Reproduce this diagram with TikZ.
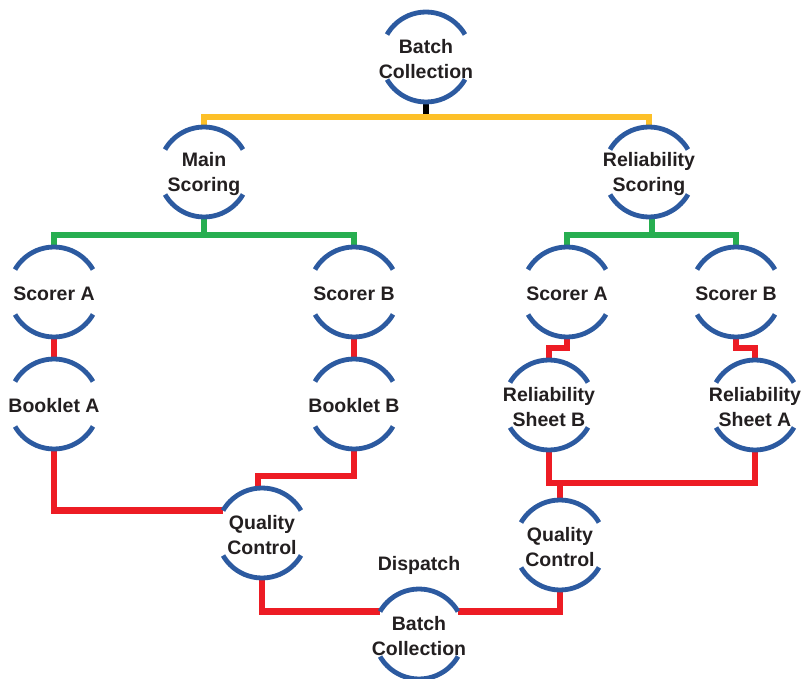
\documentclass[tikz,border=0pt]{standalone}
\usepackage{fontspec}
\setmainfont{Liberation Sans}
\definecolor{arcblue}{RGB}{44,90,160}
\definecolor{yel}{RGB}{253,192,40}
\definecolor{grn}{RGB}{39,174,80}
\definecolor{rd}{RGB}{237,28,36}
\definecolor{txtgray}{RGB}{35,31,32}
\pgfdeclarelayer{bg}
\pgfsetlayers{bg,main}
\tikzset{
  txt/.style={font=\fontsize{19.5}{25}\selectfont\bfseries, text=txtgray, align=center, inner sep=0pt, draw=none, solid},
  bub/.style={circle, minimum size=90pt, inner sep=0pt, outer sep=0pt, draw=arcblue, line width=4.8pt,
    dash pattern=on 0pt off 23.562pt on 94.248pt off 47.124pt on 94.248pt off 23.562pt,
    label={[txt,yshift=-2pt]center:#1}},
  conn/.style={line width=6.5pt},
  ylink/.style={conn, draw=yel},
  glink/.style={conn, draw=grn},
  rlink/.style={conn, draw=rd},
  stub/.style={line width=6pt, draw=black}
}
\begin{document}
\begin{tikzpicture}[x=1pt,y=-1pt]
\useasboundingbox (0,0) rectangle (801,679);
% bubbles
\node[bub={Batch\\Collection}] (bc1) at (426,57) {};
\node[bub={Main\\Scoring}] (ms) at (204,172) {};
\node[bub={Reliability\\Scoring}] (rs) at (649,172) {};
\node[bub={Scorer A}] (sa1) at (54,292) {};
\node[bub={Scorer B}] (sb1) at (354,292) {};
\node[bub={Scorer A}] (sa2) at (567,292) {};
\node[bub={Scorer B}] (sb2) at (736,292) {};
\node[bub={Booklet A}] (ba) at (54,404) {};
\node[bub={Booklet B}] (bb) at (354,404) {};
\node[bub={Reliability\\Sheet B}] (rsb) at (549,405) {};
\node[bub={Reliability\\Sheet A}] (rsa) at (755,405) {};
\node[bub={Quality\\Control}] (qc1) at (262,533) {};
\node[bub={Quality\\Control}] (qc2) at (560,545) {};
\node[bub={Batch\\Collection}] (dbc) at (419,634) {};
\node[txt] (dis) at (419,565) {Dispatch};
% connectors
\begin{pgfonlayer}{bg}
\draw[stub] (bc1.south) -- ++(0,14);
\draw[ylink] (ms.north) -- ++(0,-10) -| (rs.north);
\draw[glink] (ms.south) -- ++(0,19);
\draw[glink] (sa1.north) -- ++(0,-12) -| (sb1.north);
\draw[glink] ([xshift=3pt]rs.south) -- ++(0,19);
\draw[glink] (sa2.north) -- ++(0,-12) -| (sb2.north);
\draw[rlink] (sa1.south) -- (ba.north);
\draw[rlink] (sb1.south) -- (bb.north);
\draw[rlink] (ba.south) |- (qc1.150);
\draw[rlink] (bb.south) -- ++(0,27) -| ([xshift=-4pt]qc1.north);
\draw[rlink] (qc1.south) |- (dbc.150);
\draw[rlink] (dbc.30) -| (qc2.south);
\draw[rlink] (sa2.south) -- ++(0,11) -| (rsb.north);
\draw[rlink] (sb2.south) -- ++(0,11) -| (rsa.north);
\draw[rlink] (rsb.south) -- ++(0,33) -| (rsa.south);
\draw[rlink] (qc2.north) -- ++(0,-17);
\end{pgfonlayer}
\end{tikzpicture}
\end{document}
